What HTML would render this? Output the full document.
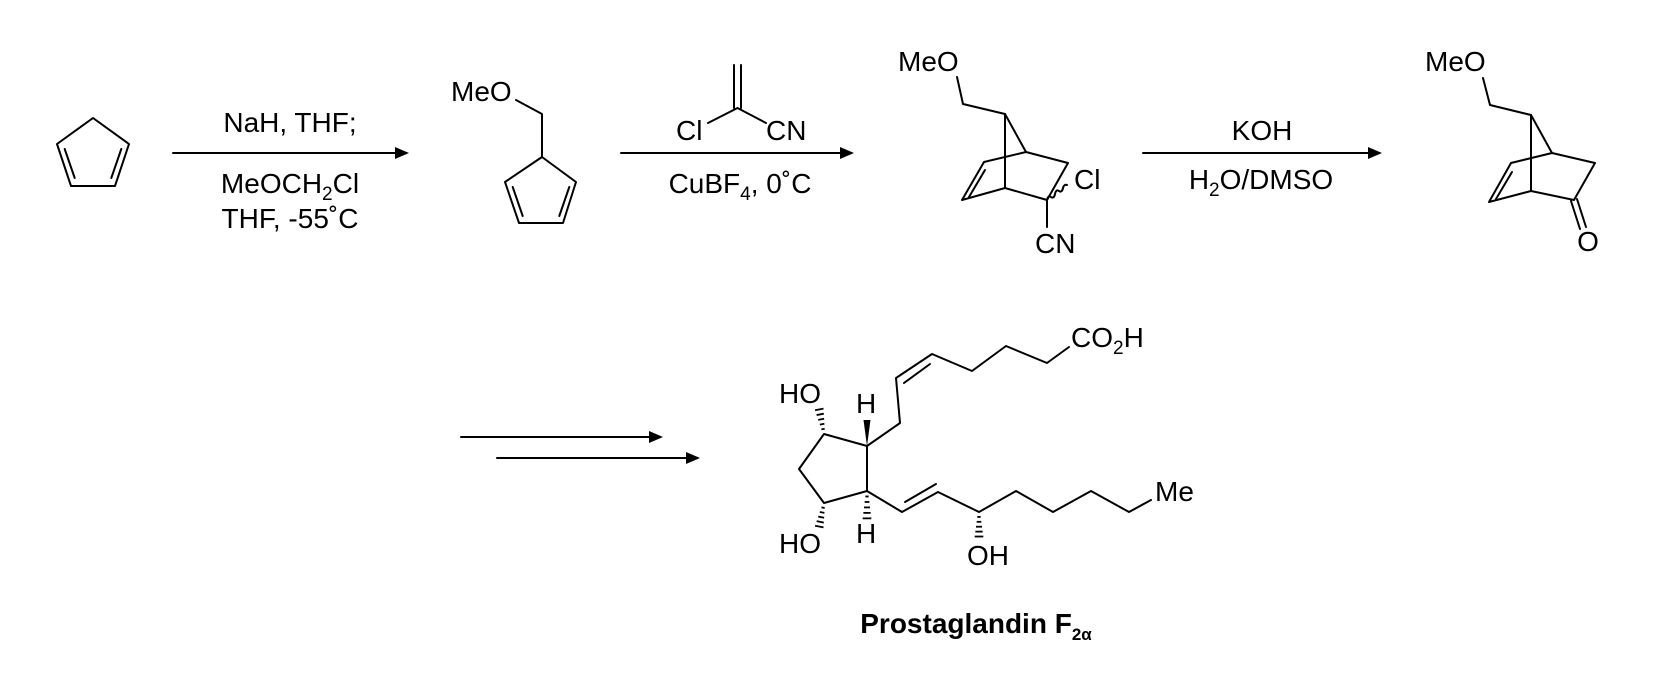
<!DOCTYPE html>
<html><head><meta charset="utf-8"><style>
html,body{margin:0;padding:0;background:#fff;}
svg{display:block;}
text{font-family:"Liberation Sans",Arial,sans-serif;font-size:28px;fill:#000;}
</style></head><body>
<svg id="s" width="1660" height="674" viewBox="0 0 1660 674" xmlns="http://www.w3.org/2000/svg">
<g stroke="#000" stroke-width="2" fill="none" stroke-linejoin="round" stroke-linecap="round">
<!-- cyclopentadiene -->
<polygon points="93,118 129,144 115,186 71,186 57,144"/>
<line x1="64.7" y1="149" x2="74.7" y2="178"/>
<line x1="121.3" y1="149" x2="111.3" y2="178"/>
<!-- compound 2 -->
<polyline points="516,100 542,114 542,157"/>
<polygon points="542,157 576,182 563,223 519,223 505,182"/>
<line x1="512.7" y1="187" x2="522.7" y2="216"/>
<line x1="569.3" y1="187" x2="559.3" y2="216"/>
<!-- acrylonitrile -->
<line x1="734" y1="65" x2="734" y2="108"/>
<line x1="741" y1="65" x2="741" y2="108"/>
<polyline points="708,123 737.5,108 766,123"/>
<!-- compound 3 -->
<polyline points="957,77 963,104 1005,114"/>
<line x1="1005" y1="114" x2="1026" y2="152"/>
<line x1="1005" y1="114" x2="1005" y2="188"/>
<polyline points="1026,152 1068,163 1047,200 1005,188 962,200 984,162 1026,152"/>
<line x1="969" y1="197" x2="985" y2="170"/>
<path d="M1047,200 q1,-5 4,-3 q3,2 4,-3 q1,-5 4,-3 q3,2 4,-3 q1,-4 4,-3"/>
<line x1="1047" y1="200" x2="1047" y2="227"/>
<!-- compound 4 -->
<polyline points="1483,78 1490,105 1531,115"/>
<line x1="1531" y1="115" x2="1552" y2="153"/>
<line x1="1531" y1="115" x2="1531" y2="191"/>
<polyline points="1552,153 1595,163 1574,200 1531,191 1489,202 1511,163 1552,153"/>
<line x1="1496" y1="199" x2="1512" y2="172"/>
<line x1="1571" y1="201" x2="1580" y2="229"/>
<line x1="1577" y1="199" x2="1586" y2="227"/>
<!-- arrows -->
<line x1="173" y1="153" x2="400" y2="153"/>
<line x1="621" y1="153" x2="845" y2="153"/>
<line x1="1143" y1="153" x2="1372" y2="153"/>
<line x1="461" y1="437" x2="653" y2="437"/>
<line x1="497" y1="458" x2="690" y2="458"/>
<!-- PGF2a -->
<polygon points="824,434 867,446 867,491 824,503 799,469"/>
<polyline points="867,446 900,423 896,378 932,354 972,371 1006,346 1047,363 1069,347"/>
<line x1="904" y1="383" x2="930" y2="364"/>
<polyline points="867,491 902,512 938,492 979,512 1016,491 1053,512 1091,491 1129,512 1151,500"/>
<line x1="905" y1="502" x2="936" y2="484"/>
</g>
<g fill="#000">
<polygon points="409,153 395,147 395,159"/>
<polygon points="854,153 840,147 840,159"/>
<polygon points="1382,153 1368,147 1368,159"/>
<polygon points="663,437 649,431 649,443"/>
<polygon points="700,458 686,452 686,464"/>
<polygon points="867,446 863.5,420 870.5,420"/>
</g>
<g id="hashes" stroke="#000" stroke-width="1.8"></g>
<text x="290" y="132" text-anchor="middle">NaH, THF;</text>
<text x="290" y="193" text-anchor="middle">MeOCH<tspan font-size="19" dy="7">2</tspan><tspan dy="-7">Cl</tspan></text>
<text x="290" y="228" text-anchor="middle">THF, -55˚C</text>
<text x="451" y="101">MeO</text>
<text x="676" y="140">Cl</text>
<text x="766" y="140">CN</text>
<text x="740" y="193" text-anchor="middle">CuBF<tspan font-size="19" dy="7">4</tspan><tspan dy="-7">, 0˚C</tspan></text>
<text x="898" y="71">MeO</text>
<text x="1074" y="189">Cl</text>
<text x="1035" y="253">CN</text>
<text x="1262" y="140" text-anchor="middle">KOH</text>
<text x="1261" y="189" text-anchor="middle">H<tspan font-size="19" dy="7">2</tspan><tspan dy="-7">O/DMSO</tspan></text>
<text x="1425" y="71">MeO</text>
<text x="1588" y="251" text-anchor="middle">O</text>
<text x="779" y="403">HO</text>
<text x="856" y="413">H</text>
<text x="1071" y="347">CO<tspan font-size="19" dy="7">2</tspan><tspan dy="-7">H</tspan></text>
<text x="1155" y="501">Me</text>
<text x="967" y="565">OH</text>
<text x="856" y="543">H</text>
<text x="779" y="553">HO</text>
<text x="976" y="633" text-anchor="middle" font-weight="bold" font-size="25">Prostaglandin F<tspan font-size="17" dy="7">2α</tspan></text>
</svg>
<script>
(function(){
var g=document.getElementById('hashes');
function hash(x1,y1,x2,y2,n,wmax){
 var dx=x2-x1,dy=y2-y1,L=Math.hypot(dx,dy),nx=-dy/L,ny=dx/L;
 for(var i=1;i<=n;i++){var t=i/(n+0.3);var cx=x1+dx*t,cy=y1+dy*t;var w=1+wmax*t;
  var l=document.createElementNS('http://www.w3.org/2000/svg','line');
  l.setAttribute('x1',cx-nx*w);l.setAttribute('y1',cy-ny*w);
  l.setAttribute('x2',cx+nx*w);l.setAttribute('y2',cy+ny*w);g.appendChild(l);}
}
hash(824,434,819,408,5,3.5);
hash(824,503,819,528,5,3.5);
hash(867,491,867,520,5,3.5);
hash(979,512,979,538,5,3.5);
})();
</script>
</body></html>
